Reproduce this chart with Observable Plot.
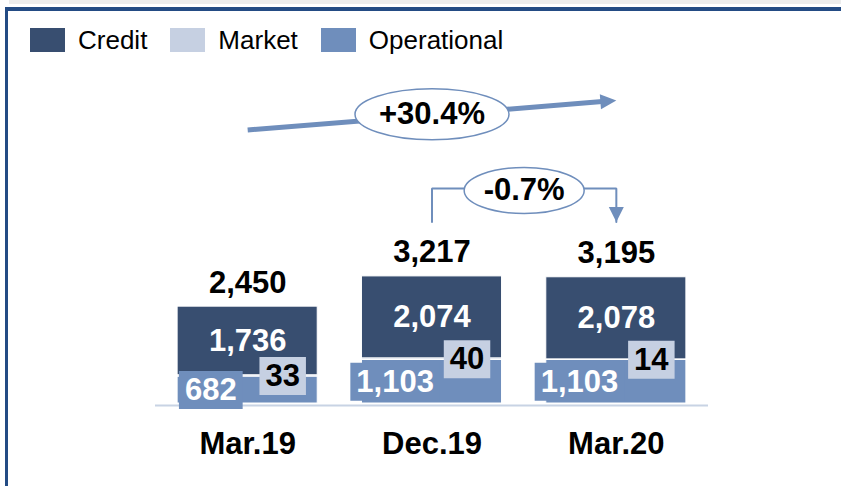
<!DOCTYPE html>
<html><head><meta charset="utf-8">
<script src="https://cdn.jsdelivr.net/npm/d3@7"></script>
<script src="https://cdn.jsdelivr.net/npm/@observablehq/plot@0.6"></script>
<style>
html,body{margin:0;padding:0;background:#fff;}
#wrap{position:relative;width:841px;height:486px;overflow:hidden;font-family:"Liberation Sans",Arial,sans-serif;}
#band{position:absolute;left:9px;top:0;right:0;height:4px;background:#ececec;}
#frame{position:absolute;left:5px;top:7px;right:-10px;bottom:-10px;border-top:4px solid #234b84;border-left:3px solid #234b84;}
#legend{position:absolute;left:30px;top:28px;display:flex;align-items:center;font-size:26px;color:#000;line-height:24px;}
.item{display:flex;align-items:center;margin-right:23px;}
.sw{width:35px;height:24px;margin-right:13px;}
#chart{position:absolute;left:0;top:0;}
</style></head><body>
<div id="wrap"><div id="band"></div><div id="frame"></div><div id="legend"></div><div id="chart"></div></div>
<script>
// ---- data ----
const periods = ["Mar.19", "Dec.19", "Mar.20"];
const credit = [1736, 2074, 2078];
const market = [33, 40, 14];
const operational = [682, 1103, 1103];
const totals = [2450, 3217, 3195];
const seriesNames = ["Credit", "Market", "Operational"];
const seriesColors = ["#384e70", "#c6d0e2", "#6f8ebc"];
const growthLabel = "+30.4%";
const changeLabel = "-0.7%";
// annotation anchors (x = period index, y = value units)
const growthArrow = {x1: 0, y1: 6922, x2: 2, y2: 7669};
const growthBubble = {x: 1, y: 7320, label: growthLabel};
const bracketPath = [{x: 1, y: 4595}, {x: 1, y: 5442}, {x: 2, y: 5442}, {x: 2, y: 4595}];
const changeBubble = {x: 1.5, y: 5391, label: changeLabel};

// ---- setup ----
const W = 841, H = 486;
const mL = 155, mR = 133, mT = 0, mB = 83;
const xOpts = {domain: [-0.5, 2.5], range: [mL, W - mR]};
const yOpts = {domain: [0, 10200], range: [H - mB, mT]};
const xs = Plot.scale({x: xOpts}), ys = Plot.scale({y: yOpts});
const lineColor = "#6f8ebc";
const barHalf = 0.38;
const fmt = d3.format(",");
const FONT = "bold 31px 'Liberation Sans'";
const cctx = document.createElement("canvas").getContext("2d");
cctx.font = FONT;
const boxHalf = s => cctx.measureText(s).width / 2 + 6;

// legend
const legend = document.getElementById("legend");
seriesNames.forEach((n, k) => {
  const it = document.createElement("div"); it.className = "item";
  const sw = document.createElement("div"); sw.className = "sw"; sw.style.background = seriesColors[k];
  const tx = document.createElement("span"); tx.textContent = n;
  it.append(sw, tx); legend.append(it);
});

// stacked rows
const rows = [];
periods.forEach((p, i) => {
  let base = 0;
  for (const [s, v] of [["Operational", operational[i]], ["Market", market[i]], ["Credit", credit[i]]]) {
    rows.push({i, series: s, y1: base, y2: base + v});
    base += v;
  }
});
const totalLabels = periods.map((p, i) => ({x: i, y: totals[i], t: fmt(totals[i])}));
const creditLabels = periods.map((p, i) => ({x: i, y: operational[i] + market[i] + credit[i] / 2, t: fmt(credit[i])}));
const opLabels = periods.map((p, i) => ({x: i - 0.2, y: operational[i] / 2, t: fmt(operational[i])}));
const mkLabels = periods.map((p, i) => ({x: i + 0.19, y: operational[i] + market[i] / 2, t: fmt(market[i])}));

// symbols
const boxSymbol = {draw(c, size) {
  const hw = Math.sqrt(size / Math.PI), hh = 19;
  c.moveTo(-hw, -hh); c.lineTo(hw, -hh); c.lineTo(hw, hh); c.lineTo(-hw, hh); c.closePath();
}};
const ellipse = (rx, ry) => ({draw(c) {
  const k = 0.5523, kx = rx * k, ky = ry * k;
  c.moveTo(rx, 0);
  c.bezierCurveTo(rx, ky, kx, ry, 0, ry);
  c.bezierCurveTo(-kx, ry, -rx, ky, -rx, 0);
  c.bezierCurveTo(-rx, -ky, -kx, -ry, 0, -ry);
  c.bezierCurveTo(kx, -ry, rx, -ky, rx, 0);
  c.closePath();
}});
const head = (len, w) => ({draw(c) {
  c.moveTo(0, 0); c.lineTo(-len, -w / 2); c.lineTo(-len, w / 2); c.closePath();
}});

// growth arrow geometry in pixels -> shorten line end under the head
const px1 = xs.apply(growthArrow.x1), py1 = ys.apply(growthArrow.y1);
const px2 = xs.apply(growthArrow.x2), py2 = ys.apply(growthArrow.y2);
const ang = Math.atan2(py2 - py1, px2 - px1);
const headLen = 16;
const lineEnd = {x: xs.invert(px2 - Math.cos(ang) * (headLen - 2)), y: ys.invert(py2 - Math.sin(ang) * (headLen - 2))};
const growthLine = [{x1: growthArrow.x1, y1: growthArrow.y1, x2: lineEnd.x, y2: lineEnd.y}];

const chart = Plot.plot({
  width: W, height: H,
  marginLeft: mL, marginRight: mR, marginTop: mT, marginBottom: mB,
  x: {...xOpts, ticks: [0, 1, 2], tickFormat: i => periods[i], tickSize: 0, tickPadding: 28, label: null},
  y: {...yOpts, axis: null},
  r: {type: "identity"},
  color: {domain: seriesNames, range: seriesColors},
  style: {fontFamily: "'Liberation Sans', Arial, sans-serif", fontSize: "31px", fontWeight: "bold", background: "transparent", overflow: "visible"},
  marks: [
    Plot.rect(rows, {x1: d => d.i - barHalf, x2: d => d.i + barHalf, y1: "y1", y2: "y2", fill: "series", stroke: "white", strokeWidth: 1}),
    Plot.ruleY([0], {stroke: "#c8d3e4", strokeWidth: 2, dy: 2}),
    Plot.text(totalLabels, {x: "x", y: "y", text: "t", dy: -24, fill: "black", lineAnchor: "middle"}),
    Plot.text(creditLabels, {x: "x", y: "y", text: "t", fill: "white", lineAnchor: "middle"}),
    Plot.dot(opLabels, {x: "x", y: "y", r: d => boxHalf(d.t), symbol: boxSymbol, fill: seriesColors[2], stroke: "none"}),
    Plot.text(opLabels, {x: "x", y: "y", text: "t", fill: "white", lineAnchor: "middle"}),
    Plot.dot(mkLabels, {x: "x", y: "y", r: d => boxHalf(d.t), symbol: boxSymbol, fill: seriesColors[1], stroke: "none"}),
    Plot.text(mkLabels, {x: "x", y: "y", text: "t", fill: "black", lineAnchor: "middle"}),
    // growth arrow
    Plot.link(growthLine, {x1: "x1", y1: "y1", x2: "x2", y2: "y2", stroke: lineColor, strokeWidth: 5, strokeLinecap: "butt"}),
    Plot.dot([growthArrow], {x: "x2", y: "y2", r: 1, symbol: head(headLen, 15), rotate: ang * 180 / Math.PI, fill: lineColor, stroke: "none"}),
    Plot.dot([growthBubble], {x: "x", y: "y", r: 1, symbol: ellipse(77, 25.5), fill: "white", stroke: lineColor, strokeWidth: 1.5}),
    Plot.text([growthBubble], {x: "x", y: "y", text: "label", fill: "black", lineAnchor: "middle"}),
    // change bracket
    Plot.line(bracketPath, {x: "x", y: "y", stroke: lineColor, strokeWidth: 2, strokeLinejoin: "miter"}),
    Plot.dot([bracketPath[3]], {x: "x", y: "y", r: 1, symbol: head(15, 15), rotate: 90, fill: lineColor, stroke: "none"}),
    Plot.dot([changeBubble], {x: "x", y: "y", r: 1, symbol: ellipse(60, 23), fill: "white", stroke: lineColor, strokeWidth: 1.5}),
    Plot.text([changeBubble], {x: "x", y: "y", text: "label", fill: "black", lineAnchor: "middle"})
  ]
});
document.getElementById("chart").append(chart);
</script>
</body></html>
